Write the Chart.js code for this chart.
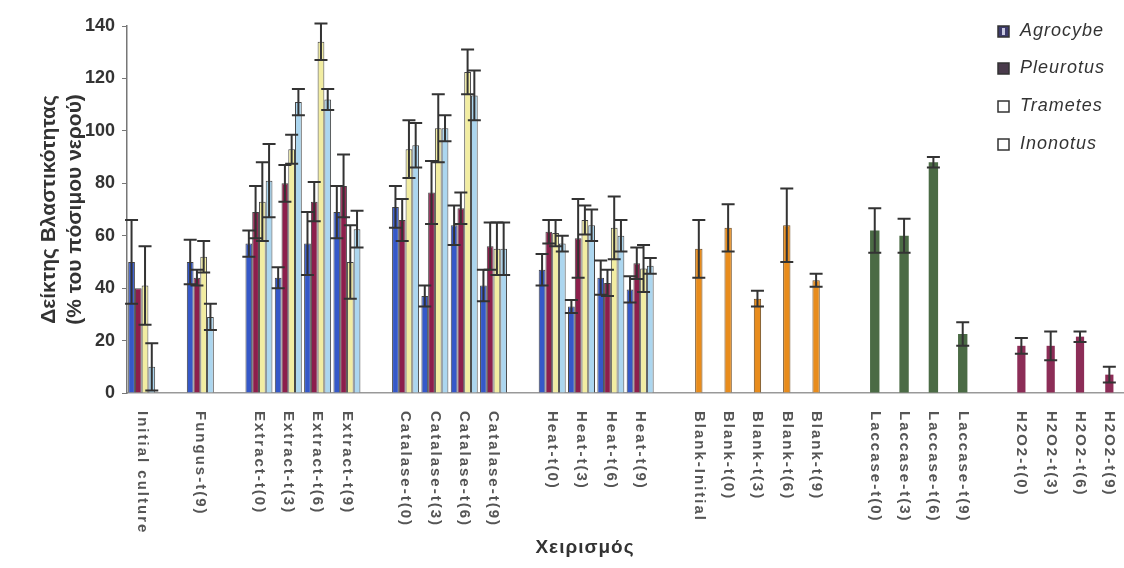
<!DOCTYPE html>
<html lang="el">
<head>
    <meta charset="UTF-8">
    <title>Δείκτης Βλαστικότητας</title>
    <script src="https://cdn.jsdelivr.net/npm/chart.js"></script>
    <style>
        html, body {
            margin: 0;
            padding: 0;
            background: #ffffff;
        }
        #chartContainer {
            width: 1124px;
            height: 568px;
        }
    </style>
</head>
<body>
    <div id="chartContainer">
        <canvas id="germChart"></canvas>
    </div>

    <script>
        // categories ('' = empty slot between treatment groups)
        const categories = [
            'Initial culture', '', 'Fungus-t(9)', '',
            'Extract-t(0)', 'Extract-t(3)', 'Extract-t(6)', 'Extract-t(9)', '',
            'Catalase-t(0)', 'Catalase-t(3)', 'Catalase-t(6)', 'Catalase-t(9)', '',
            'Heat-t(0)', 'Heat-t(3)', 'Heat-t(6)', 'Heat-t(9)', '',
            'Blank-Initial', 'Blank-t(0)', 'Blank-t(3)', 'Blank-t(6)', 'Blank-t(9)', '',
            'Laccase-t(0)', 'Laccase-t(3)', 'Laccase-t(6)', 'Laccase-t(9)', '',
            'H2O2-t(0)', 'H2O2-t(3)', 'H2O2-t(6)', 'H2O2-t(9)'
        ];
        const yTicks = [0, 20, 40, 60, 80, 100, 120, 140];

        // fungus series (first 18 slots), values and +/- errors
        const agrocybe    = [50, null, 50, null, 57, 44, 57, 69, null, 71, 37, 64, 41, null, 47, 33, 44, 39.5];
        const agrocybeErr = [16, null, 8.5, null, 5, 4, 12, 10, null, 8, 4, 7.5, 6, null, 6, 2.5, 6.5, 5];
        const pleurotus    = [40, null, 44, null, 69, 80, 73, 79, null, 66, 76.5, 70.5, 56, null, 61.5, 59, 42, 49.5];
        const pleurotusErr = [0, null, 3, null, 10, 7, 7.5, 12, null, 8, 12, 6, 9, null, 4.5, 15, 5, 6];
        const trametes    = [41, null, 52, null, 73, 93, 134, 50, null, 93, 101, 122.5, 55, null, 61, 66, 63, 47.5];
        const trametesErr = [15, null, 6, null, 15, 5.5, 7, 14, null, 11, 13, 8.5, 10, null, 5, 5.5, 12, 9];
        const inonotus    = [10, null, 29, null, 81, 111, 112, 62.5, null, 94.5, 101, 113.5, 55, null, 57, 64, 60, 48.5];
        const inonotusErr = [9, null, 5, null, 14, 5, 4, 7, null, 8.5, 5, 9.5, 10, null, 3, 6, 6, 3];

        // single-bar controls
        const blank    = [null, null, null, null, null, null, null, null, null, null, null, null, null, null, null, null, null, null, null, 55, 63, 36, 64, 43];
        const blankErr = [null, null, null, null, null, null, null, null, null, null, null, null, null, null, null, null, null, null, null, 11, 9, 3, 14, 2.5];
        const laccase    = [null, null, null, null, null, null, null, null, null, null, null, null, null, null, null, null, null, null, null, null, null, null, null, null, null, 62, 60, 88, 22.5];
        const laccaseErr = [null, null, null, null, null, null, null, null, null, null, null, null, null, null, null, null, null, null, null, null, null, null, null, null, null, 8.5, 6.5, 2, 4.5];
        const h2o2    = [null, null, null, null, null, null, null, null, null, null, null, null, null, null, null, null, null, null, null, null, null, null, null, null, null, null, null, null, null, null, 18, 18, 21.5, 7];
        const h2o2Err = [null, null, null, null, null, null, null, null, null, null, null, null, null, null, null, null, null, null, null, null, null, null, null, null, null, null, null, null, null, null, 3, 5.5, 2, 3];

        const legendNames = ['Agrocybe', 'Pleurotus', 'Trametes', 'Inonotus'];
        const errorLists = [agrocybeErr, pleurotusErr, trametesErr, inonotusErr, blankErr, laccaseErr, h2o2Err];

        // error bars drawn on top of the bars
        const errorBars = {
            id: 'errorBars',
            afterDatasetsDraw(chart) {
                const ctx = chart.ctx;
                const yScale = chart.scales.y;
                ctx.save();
                ctx.strokeStyle = '#333333';
                ctx.lineWidth = 2;
                chart.data.datasets.forEach((ds, di) => {
                    const meta = chart.getDatasetMeta(di);
                    const errs = errorLists[di];
                    ds.data.forEach((v, i) => {
                        const e = errs[i];
                        if (v == null || !e) return;
                        const x = meta.data[i].x;
                        const top = yScale.getPixelForValue(v + e);
                        const bot = yScale.getPixelForValue(v - e);
                        ctx.beginPath();
                        ctx.moveTo(x, top); ctx.lineTo(x, bot);
                        ctx.moveTo(x - 6.5, top); ctx.lineTo(x + 6.5, top);
                        ctx.moveTo(x - 6.5, bot); ctx.lineTo(x + 6.5, bot);
                        ctx.stroke();
                    });
                });
                ctx.restore();
            }
        };

        // rotated category labels, x title and legend
        const extraText = {
            id: 'extraText',
            afterDraw(chart) {
                const ctx = chart.ctx;
                const xScale = chart.scales.x;
                ctx.save();
                ctx.font = 'bold 15px Arial, "Liberation Sans", sans-serif';
                ctx.fillStyle = '#555555';
                ctx.letterSpacing = '2px';
                ctx.textAlign = 'left';
                ctx.textBaseline = 'middle';
                categories.forEach((c, i) => {
                    if (!c) return;
                    ctx.save();
                    ctx.translate(xScale.getPixelForValue(i), 411);
                    ctx.rotate(Math.PI / 2);
                    ctx.fillText(c, 0, 0);
                    ctx.restore();
                });

                ctx.letterSpacing = '1px';
                ctx.font = 'bold 19px Arial, "Liberation Sans", sans-serif';
                ctx.fillStyle = '#333333';
                ctx.textAlign = 'center';
                ctx.fillText('Χειρισμός', 585, 548);

                // legend
                const rows = [31, 68, 106, 144];
                const fills = ['#3d3b6b', '#4a3b4c', '#ffffff', '#ffffff'];
                ctx.font = 'italic 18px Arial, "Liberation Sans", sans-serif';
                ctx.letterSpacing = '1px';
                ctx.textAlign = 'left';
                legendNames.forEach((name, i) => {
                    const y = rows[i];
                    ctx.fillStyle = fills[i];
                    ctx.fillRect(998, y - 5, 11, 11);
                    ctx.strokeStyle = '#333333';
                    ctx.lineWidth = 1.5;
                    ctx.strokeRect(998, y - 5, 11, 11);
                    if (i === 0) {
                        ctx.fillStyle = '#c8c8e0';
                        ctx.fillRect(1002, y - 3, 3, 7);
                    }
                    ctx.fillStyle = '#333333';
                    ctx.fillText(name, 1020, y);
                });
                ctx.restore();
            }
        };

        const barBase = { borderColor: '#444444', borderWidth: 1, categoryPercentage: 0.92, barPercentage: 1.0 };

        new Chart(document.getElementById('germChart').getContext('2d'), {
            type: 'bar',
            data: {
                labels: categories,
                datasets: [
                    { ...barBase, label: legendNames[0], data: agrocybe, backgroundColor: '#3558c8' },
                    { ...barBase, label: legendNames[1], data: pleurotus, backgroundColor: '#8c1f4c' },
                    { ...barBase, label: legendNames[2], data: trametes, backgroundColor: '#f2eda2' },
                    { ...barBase, label: legendNames[3], data: inonotus, backgroundColor: '#acd6ef' },
                    { label: 'Blank', data: blank, grouped: false, backgroundColor: '#e88c1c', borderColor: '#6b4a22', borderWidth: 1, categoryPercentage: 1, barPercentage: 0.25 },
                    { label: 'Laccase', data: laccase, grouped: false, backgroundColor: '#4b6b45', borderWidth: 0, categoryPercentage: 1, barPercentage: 0.32 },
                    { label: 'H2O2', data: h2o2, grouped: false, backgroundColor: '#8c2d57', borderWidth: 0, categoryPercentage: 1, barPercentage: 0.28 }
                ]
            },
            options: {
                responsive: true,
                maintainAspectRatio: false,
                animation: false,
                layout: { padding: { top: 26, right: 0, left: 0, bottom: 0 } },
                plugins: {
                    legend: { display: false },
                    tooltip: { enabled: false }
                },
                scales: {
                    x: {
                        grid: { display: false },
                        border: { display: true, color: '#999999', width: 1.5 },
                        ticks: { display: false },
                        afterFit(scale) { scale.height = 175; }
                    },
                    y: {
                        min: 0,
                        max: 140,
                        afterBuildTicks(scale) { scale.ticks = yTicks.map(v => ({ value: v })); },
                        grid: { drawOnChartArea: false, tickLength: 5, color: '#777777' },
                        border: { display: true, color: '#777777', width: 1.5 },
                        ticks: {
                            padding: 7,
                            color: '#333333',
                            font: { family: 'Arial, "Liberation Sans", sans-serif', size: 18, weight: 'bold' }
                        },
                        title: {
                            display: true,
                            text: ['Δείκτης Βλαστικότητας', '(% του πόσιμου νερού)'],
                            color: '#333333',
                            padding: { top: 37, bottom: 0 },
                            font: { family: 'Arial, "Liberation Sans", sans-serif', size: 21, weight: 'bold', lineHeight: 1.2 }
                        },
                        afterFit(scale) { scale.width = 127; }
                    }
                }
            },
            plugins: [errorBars, extraText]
        });
    </script>
</body>
</html>
